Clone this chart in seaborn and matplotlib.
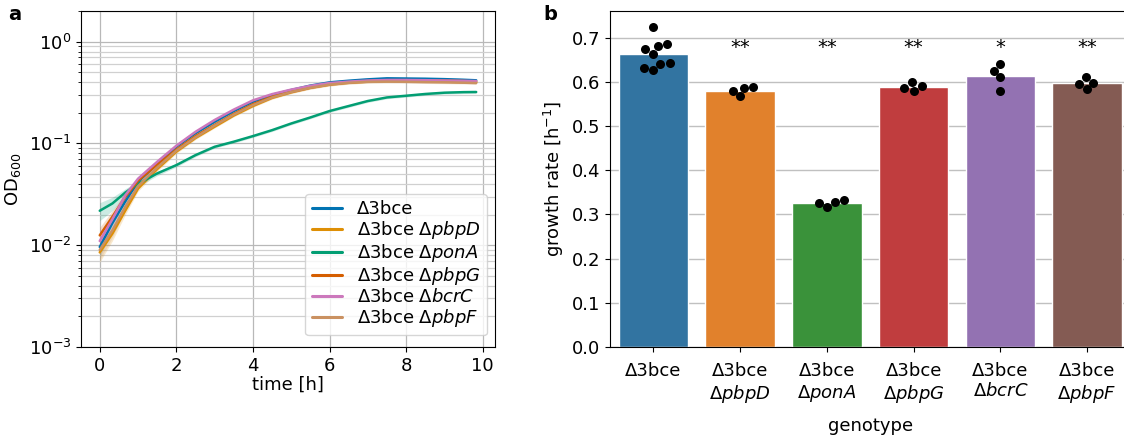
import numpy as np
import pandas as pd
import matplotlib
matplotlib.use("Agg")
import matplotlib.pyplot as plt
import seaborn as sns

# ---------------- data: panel a (growth curves) ----------------
time_h = [0, 0.33, 0.67, 1, 1.5, 2, 2.5, 3, 3.5, 4, 4.5, 5, 5.5, 6, 6.5, 7, 7.5, 8, 8.5, 9, 9.5, 9.83]
od_3bce = [0.0096, 0.0165, 0.027, 0.042, 0.063, 0.093, 0.126, 0.163, 0.208, 0.257, 0.300, 0.335, 0.370, 0.398, 0.413, 0.426, 0.436, 0.434, 0.432, 0.428, 0.422, 0.417]
od_pbpD = [0.0085, 0.013, 0.022, 0.036, 0.056, 0.083, 0.113, 0.146, 0.188, 0.233, 0.280, 0.318, 0.352, 0.378, 0.395, 0.405, 0.410, 0.410, 0.408, 0.405, 0.400, 0.398]
od_ponA = [0.0218, 0.0257, 0.033, 0.040, 0.0507, 0.0612, 0.0767, 0.0927, 0.104, 0.118, 0.135, 0.157, 0.180, 0.208, 0.233, 0.261, 0.283, 0.294, 0.306, 0.315, 0.319, 0.320]
od_pbpG = [0.0125, 0.019, 0.030, 0.043, 0.062, 0.087, 0.118, 0.152, 0.195, 0.243, 0.288, 0.322, 0.355, 0.382, 0.398, 0.410, 0.418, 0.418, 0.416, 0.414, 0.410, 0.405]
od_bcrC = [0.0110, 0.018, 0.031, 0.045, 0.066, 0.095, 0.130, 0.170, 0.215, 0.265, 0.305, 0.338, 0.368, 0.392, 0.405, 0.415, 0.420, 0.420, 0.418, 0.415, 0.412, 0.410]
od_pbpF = [0.0090, 0.014, 0.024, 0.038, 0.058, 0.085, 0.115, 0.150, 0.192, 0.238, 0.283, 0.320, 0.352, 0.378, 0.394, 0.403, 0.405, 0.403, 0.400, 0.398, 0.395, 0.392]
# relative half-width of the confidence band at each time point
band_rel = [0.20, 0.15, 0.09, 0.06, 0.05, 0.04, 0.035, 0.03, 0.03, 0.03, 0.03, 0.03, 0.03, 0.03, 0.03, 0.03, 0.03, 0.03, 0.03, 0.03, 0.03, 0.03]

# ---------------- data: panel b (growth rates) ----------------
genotypes = ["Δ3bce", "Δ3bce Δ$\\it{pbpD}$", "Δ3bce Δ$\\it{ponA}$", "Δ3bce Δ$\\it{pbpG}$",
             "Δ3bce Δ$\\it{bcrC}$", "Δ3bce Δ$\\it{pbpF}$"]
tick_labels = ["Δ3bce", "Δ3bce\nΔ$\\it{pbpD}$", "Δ3bce\nΔ$\\it{ponA}$", "Δ3bce\nΔ$\\it{pbpG}$",
               "Δ3bce\nΔ$\\it{bcrC}$", "Δ3bce\nΔ$\\it{pbpF}$"]
rate_3bce = [0.723, 0.685, 0.681, 0.674, 0.663, 0.643, 0.641, 0.630, 0.627]
rate_pbpD = [0.580, 0.586, 0.587, 0.567]
rate_ponA = [0.327, 0.316, 0.326, 0.333]
rate_pbpG = [0.585, 0.600, 0.590, 0.580]
rate_bcrC = [0.641, 0.625, 0.610, 0.579]
rate_pbpF = [0.611, 0.595, 0.598, 0.583]
stars = ["", "**", "**", "**", "*", "**"]
star_y = 0.678

# ---------------- style ----------------
sns.set_style("ticks")
plt.rcParams["font.family"] = ["DejaVu Sans"]
plt.rcParams["mathtext.fontset"] = "dejavusans"
for k in ["text.color", "axes.labelcolor", "xtick.color", "ytick.color", "axes.edgecolor"]:
    plt.rcParams[k] = "black"
FS = 13

fig = plt.figure(figsize=(11.24, 4.4), dpi=100)
axA = fig.add_axes([0.072, 0.2114, 0.3684, 0.7636])
axB = fig.add_axes([0.5427, 0.2114, 0.463, 0.7636])

# ---------------- panel a ----------------
curve_series = [od_3bce, od_pbpD, od_ponA, od_pbpG, od_bcrC, od_pbpF]
rows = []
for g, vals in zip(genotypes, curve_series):
    for t, v in zip(time_h, vals):
        rows.append({"time": t, "OD": v, "genotype": g})
dfA = pd.DataFrame(rows)
cb = sns.color_palette("colorblind")
pal_a = [cb[0], cb[1], cb[2], cb[3], cb[4], cb[5]]

sns.lineplot(data=dfA, x="time", y="OD", hue="genotype", hue_order=genotypes,
             palette=pal_a, errorbar=None, linewidth=1.8, ax=axA)
br = np.array(band_rel)
for c, vals in zip(pal_a, curve_series):
    v = np.array(vals)
    axA.fill_between(time_h, v * (1 - br), v * (1 + br), color=c, alpha=0.2, linewidth=0)

axA.set_yscale("log")
axA.set_ylim(1e-3, 2.0)
axA.set_xticks([0, 2, 4, 6, 8, 10])
axA.grid(True, which="major", axis="both", color="#b8b8b8", linewidth=0.9)
axA.grid(True, which="minor", axis="y", color="#d0d0d0", linewidth=0.9)
axA.set_axisbelow(True)
axA.set_xlabel("time [h]", fontsize=FS, labelpad=1)
axA.set_ylabel("OD$_{600}$", fontsize=FS)
axA.tick_params(axis="both", which="major", labelsize=FS)
leg = axA.legend(loc="lower right", fontsize=FS, frameon=True, handlelength=1.7,
                 labelspacing=0.05, borderpad=0.35, handletextpad=0.8,
                 bbox_to_anchor=(0.98, 0.035), borderaxespad=0.0)
for l in leg.get_lines():
    l.set_linewidth(2.2)

# ---------------- panel b ----------------
rate_series = [rate_3bce, rate_pbpD, rate_ponA, rate_pbpG, rate_bcrC, rate_pbpF]
rowsB = []
for g, vals in zip(genotypes, rate_series):
    for v in vals:
        rowsB.append({"genotype": g, "rate": v})
dfB = pd.DataFrame(rowsB)
pal_b = sns.color_palette("tab10")[:6]

sns.barplot(data=dfB, x="genotype", y="rate", hue="genotype", order=genotypes,
            hue_order=genotypes, palette=pal_b, errorbar=None, legend=False, ax=axB)
sns.swarmplot(data=dfB, x="genotype", y="rate", order=genotypes, color="black",
              size=6.5, ax=axB)
for i, s in enumerate(stars):
    if s:
        axB.text(i, star_y, s, ha="center", va="center", fontsize=14)

axB.set_ylim(0, 0.76)
axB.set_xlim(-0.5, 5.5)
axB.set_yticks([0.0, 0.1, 0.2, 0.3, 0.4, 0.5, 0.6, 0.7])
axB.yaxis.grid(True, color="#c0c0c0", linewidth=1.0)
axB.set_axisbelow(True)
axB.set_xticks(range(len(genotypes)))
axB.set_xticklabels(tick_labels)
axB.tick_params(axis="both", labelsize=FS)
axB.tick_params(axis="x", pad=7)
axB.set_xlabel("genotype", fontsize=FS, labelpad=9)
axB.set_ylabel("growth rate [h$^{-1}$]", fontsize=FS)

fig.text(0.007, 0.955, "a", fontsize=14, fontweight="bold")
fig.text(0.483, 0.955, "b", fontsize=14, fontweight="bold")

fig.savefig("out.png", dpi=100)
